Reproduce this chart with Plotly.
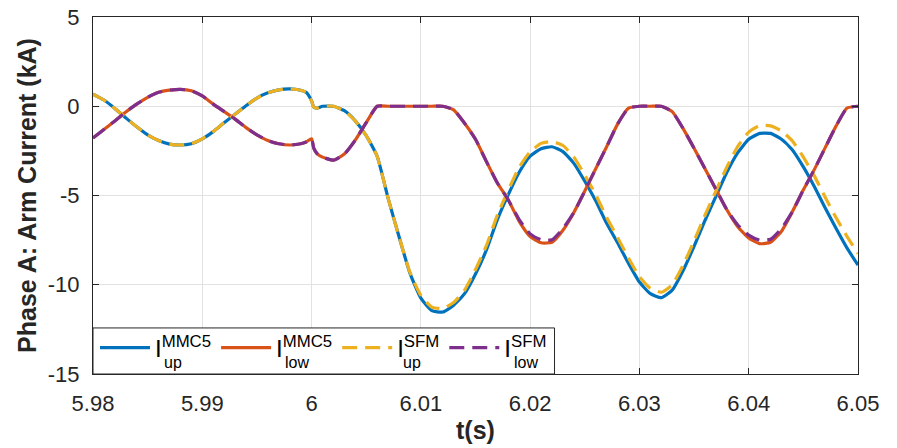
import plotly.graph_objects as go

# time (s)
t = [5.980, 5.981, 5.982, 5.983, 5.984, 5.985, 5.986, 5.987, 5.988, 5.989,
     5.990, 5.991, 5.992, 5.993, 5.994, 5.995, 5.996, 5.997, 5.998, 5.999,
     5.9995, 6.000, 6.0002, 6.0005,
     6.001, 6.002, 6.003, 6.004, 6.005, 6.006, 6.007, 6.008, 6.009, 6.010,
     6.011, 6.012, 6.013, 6.014, 6.015, 6.016, 6.017, 6.018, 6.019, 6.020,
     6.021, 6.022, 6.023, 6.024, 6.025, 6.026, 6.027, 6.028, 6.029, 6.030,
     6.031, 6.032, 6.033, 6.034, 6.035, 6.036, 6.037, 6.038, 6.039, 6.040,
     6.041, 6.042, 6.043, 6.044, 6.045, 6.046, 6.047, 6.048, 6.049, 6.050]

# MMC5 upper arm current (kA)
i_up_mmc5 = [0.68, 0.35, -0.12, -0.65, -1.15, -1.6, -1.92, -2.12, -2.17, -2.1,
             -1.83, -1.42, -0.92, -0.45, 0.03, 0.46, 0.75, 0.92, 0.97, 0.9,
             0.78, 0.3, -0.05, -0.1,
             0.0, 0.0, -0.25, -0.82, -1.65, -2.8, -5.15, -7.3, -9.35, -10.75,
             -11.45, -11.53, -11.15, -10.5, -9.4, -8.05, -6.35, -4.95, -3.7, -2.8,
             -2.38, -2.27, -2.54, -3.2, -4.2, -5.3, -6.56, -7.65, -8.8, -9.85,
             -10.5, -10.72, -10.3, -9.2, -7.85, -6.4, -5.05, -3.7, -2.6, -1.85,
             -1.52, -1.52, -1.85, -2.45, -3.4, -4.5, -5.7, -6.85, -7.95, -8.9]

# MMC5 lower arm current (kA)
i_low_mmc5 = [-1.78, -1.3, -0.82, -0.32, 0.12, 0.5, 0.78, 0.9, 0.95, 0.87,
              0.58, 0.12, -0.3, -0.72, -1.2, -1.6, -1.92, -2.1, -2.17, -2.1,
              -2.0, -1.82, -2.35, -2.65,
              -2.85, -3.02, -2.68, -1.9, -0.92, 0.0, 0.0, 0.0, 0.0, 0.0,
              0.0, 0.0, -0.2, -0.95, -1.85, -3.1, -4.3, -5.25, -6.45, -7.3,
              -7.65, -7.62, -6.95, -5.95, -4.75, -3.5, -2.27, -1.0, -0.1, 0.0,
              0.0, 0.0, -0.3, -1.25, -2.35, -3.5, -4.65, -5.8, -6.75, -7.38,
              -7.7, -7.62, -7.0, -5.9, -4.68, -3.55, -2.32, -1.1, -0.1, 0.0]

# SFM upper arm current (kA)
i_up_sfm = [0.68, 0.35, -0.12, -0.65, -1.15, -1.6, -1.92, -2.12, -2.17, -2.1,
            -1.83, -1.42, -0.92, -0.45, 0.03, 0.46, 0.75, 0.92, 0.97, 0.9,
            0.78, 0.3, -0.05, -0.1,
            0.0, 0.0, -0.25, -0.82, -1.65, -2.8, -5.15, -7.3, -9.3, -10.6,
            -11.25, -11.33, -11.0, -10.3, -9.15, -7.8, -6.1, -4.7, -3.42, -2.55,
            -2.08, -1.98, -2.2, -2.85, -3.85, -4.95, -6.22, -7.35, -8.5, -9.55,
            -10.2, -10.42, -10.0, -8.9, -7.55, -6.1, -4.75, -3.4, -2.25, -1.45,
            -1.08, -1.1, -1.38, -1.95, -2.85, -3.9, -5.1, -6.25, -7.3, -8.25]

# SFM lower arm current (kA)
i_low_sfm = [-1.78, -1.3, -0.82, -0.32, 0.12, 0.5, 0.78, 0.9, 0.95, 0.87,
             0.58, 0.12, -0.3, -0.72, -1.2, -1.6, -1.92, -2.1, -2.17, -2.1,
             -2.0, -1.82, -2.35, -2.65,
             -2.85, -3.02, -2.68, -1.9, -0.92, 0.0, 0.0, 0.0, 0.0, 0.0,
             0.0, 0.0, -0.2, -0.95, -1.85, -3.1, -4.3, -5.25, -6.35, -7.15,
             -7.48, -7.48, -6.85, -5.95, -4.75, -3.5, -2.27, -1.0, -0.1, 0.0,
             0.0, 0.0, -0.3, -1.25, -2.35, -3.5, -4.65, -5.8, -6.65, -7.22,
             -7.5, -7.45, -6.85, -5.9, -4.68, -3.55, -2.32, -1.1, -0.1, 0.0]

x_ticks = [5.98, 5.99, 6.00, 6.01, 6.02, 6.03, 6.04, 6.05]
x_tick_labels = ["5.98", "5.99", "6", "6.01", "6.02", "6.03", "6.04", "6.05"]
y_ticks = [-15, -10, -5, 0, 5]
y_tick_labels = ["-15", "-10", "-5", "0", "5"]

series_names = ["I<sup>MMC5</sup>", "I<sup>MMC5</sup>", "I<sup>SFM</sup>", "I<sup>SFM</sup>"]
series_subs = ["up", "low", "up", "low"]

FONT = "Liberation Sans, Arial, Helvetica, sans-serif"
AX = "#262626"

styles = [("#0072BD", "solid"), ("#D95319", "solid"),
          ("#EDB120", "15px,8px"), ("#7E2F8E", "15px,8px")]
series = [i_up_mmc5, i_low_mmc5, i_up_sfm, i_low_sfm]

fig = go.Figure()
for name, y, (col, dash) in zip(series_names, series, styles):
    fig.add_trace(go.Scatter(
        x=t, y=y, mode="lines", name=name,
        line=dict(color=col, width=3.2, dash=dash, shape="spline", smoothing=0.5),
    ))

axis_common = dict(
    showline=True, linecolor=AX, linewidth=1, mirror="ticks",
    ticks="inside", ticklen=6, tickcolor=AX, tickwidth=1,
    showgrid=True, gridcolor="#e2e2e2", gridwidth=1, zeroline=False,
    tickfont=dict(family=FONT, size=22, color=AX),
)

fig.update_xaxes(range=[5.98, 6.05], tickvals=x_ticks, ticktext=x_tick_labels,
                 ticklabelstandoff=10,
                 title=dict(text="<b>t(s)</b>", font=dict(family=FONT, size=25, color=AX), standoff=6),
                 **axis_common)
fig.update_yaxes(range=[-15, 5], tickvals=y_ticks, ticktext=y_tick_labels,
                 ticklabelstandoff=8,
                 title=dict(text="<b>Phase A: Arm Current (kA)</b>", font=dict(family=FONT, size=25, color=AX), standoff=4),
                 **axis_common)

# legend box (paper coords)
fig.add_shape(type="rect", xref="paper", yref="paper", x0=0, x1=0.6033, y0=0, y1=0.129,
              line=dict(color=AX, width=1), fillcolor="white", layer="above")

# subscripts for legend entries
sub_x_px = [162, 283, 401, 512]
for sx, s in zip(sub_x_px, series_subs):
    fig.add_annotation(text=s, xref="paper", yref="paper",
                       x=(sx - 93) / 765.8, y=(374 - 362) / 357,
                       xanchor="left", yanchor="middle", showarrow=False,
                       font=dict(family=FONT, size=16, color="#000"))

fig.update_layout(
    width=897, height=448,
    margin=dict(l=93, r=39, t=17, b=74, autoexpand=False),
    paper_bgcolor="white", plot_bgcolor="white",
    showlegend=True,
    legend=dict(orientation="h", x=0.0026, y=0.01, xanchor="left", yanchor="bottom",
                bgcolor="rgba(0,0,0,0)", borderwidth=0, itemwidth=50,
                font=dict(family=FONT, size=24, color="#000"), tracegroupgap=0),
)

fig.write_html("out.html", config={"displayModeBar": False},
               post_script="document.body.style.margin='0px';")
